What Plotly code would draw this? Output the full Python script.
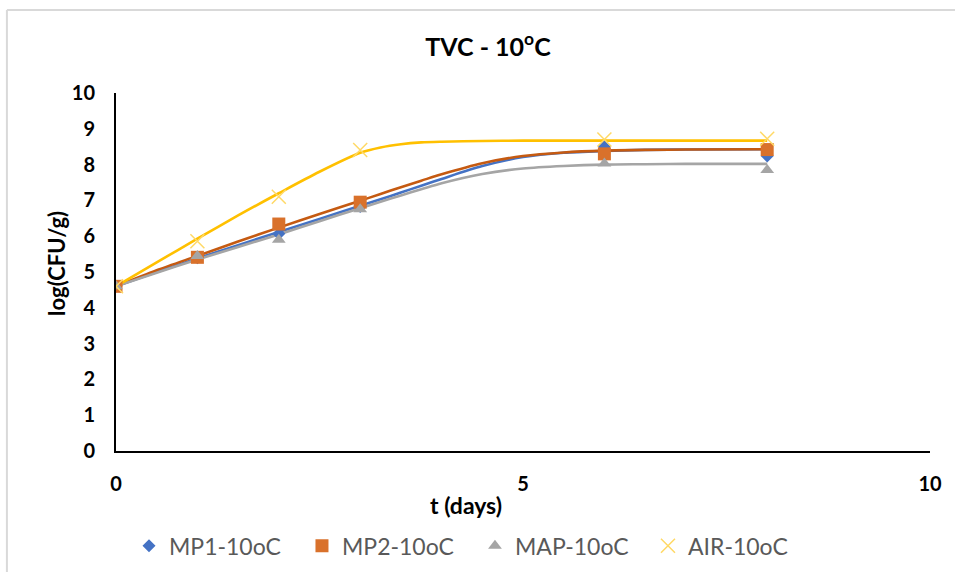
import plotly.graph_objects as go

# Observed data points (days, log CFU/g)
t_obs = [0, 1, 2, 3, 6, 8]
mp1_obs = [4.6, 5.40, 6.07, 6.83, 8.50, 8.24]
mp2_obs = [4.6, 5.41, 6.34, 6.95, 8.30, 8.42]
map_obs = [4.6, 5.45, 5.90, 6.75, 8.03, 7.85]
air_obs = [4.6, 5.86, 7.10, 8.41, 8.70, 8.72]

# Fitted curves
t_fit = [0, 0.5, 1, 1.5, 2, 2.5, 3, 3.25, 3.5, 3.75, 4, 4.5, 5, 5.5, 6, 6.5, 7, 8]
mp1_fit = [4.6, 5.00, 5.38, 5.75, 6.12, 6.48, 6.85, 7.03, 7.22, 7.41, 7.60, 7.96, 8.21, 8.33, 8.38, 8.41, 8.42, 8.43]
mp2_fit = [4.6, 5.05, 5.45, 5.85, 6.24, 6.62, 6.99, 7.18, 7.37, 7.55, 7.73, 8.04, 8.24, 8.34, 8.39, 8.41, 8.42, 8.43]
map_fit = [4.6, 4.98, 5.35, 5.70, 6.05, 6.42, 6.78, 6.96, 7.14, 7.31, 7.48, 7.74, 7.89, 7.96, 8.00, 8.01, 8.02, 8.02]
air_fit = [4.6, 5.27, 5.93, 6.58, 7.20, 7.80, 8.33, 8.48, 8.57, 8.62, 8.64, 8.66, 8.67, 8.67, 8.67, 8.67, 8.67, 8.67]

names = ["MP1-10oC", "MP2-10oC", "MAP-10oC", "AIR-10oC"]
line_colors = ["#4472C4", "#C55A11", "#A5A5A5", "#FFC000"]
marker_colors = ["#4472C4", "#D9712B", "#A5A5A5", "#FFD966"]
symbols = ["diamond", "square", "triangle-up", "x-thin"]
sizes = [10, 13, 12, 14]

x_ticks = [0, 5, 10]
y_ticks = list(range(0, 11))

fig = go.Figure()
for fit, col in zip([mp1_fit, mp2_fit, map_fit, air_fit], line_colors):
    fig.add_trace(go.Scatter(x=t_fit, y=fit, mode="lines", showlegend=False,
                             line=dict(color=col, width=2.6, shape="spline", smoothing=0.8),
                             hoverinfo="skip"))
for obs, name, col, sym, sz in zip([mp1_obs, mp2_obs, map_obs, air_obs], names, marker_colors, symbols, sizes):
    if sym == "x-thin":
        mk = dict(symbol=sym, size=sz, color=col, line=dict(color=col, width=1.5))
    else:
        mk = dict(symbol=sym, size=sz, color=col, line=dict(width=0))
    fig.add_trace(go.Scatter(x=t_obs, y=obs, mode="markers", name=name, marker=mk))

font_family = "Lato"
fig.update_layout(
    width=955, height=572,
    margin=dict(l=116, r=25, t=93, b=121, autoexpand=False),
    paper_bgcolor="white", plot_bgcolor="white",
    font=dict(family=font_family, color="#000000"),
    title=dict(text="TVC - 10<sup>o</sup>C", x=0.457, xref="paper", xanchor="center",
               y=0.918, yref="container", yanchor="middle",
               font=dict(family=font_family, size=25, color="#000000", weight="bold")),
    xaxis=dict(range=[0, 10], tickvals=x_ticks, showgrid=False, zeroline=False,
               showline=True, linecolor="#000000", linewidth=2, ticks="",
               ticklabelstandoff=14,
               tickfont=dict(family=font_family, size=20, color="#000000", weight="bold")),
    yaxis=dict(range=[0, 10], tickvals=y_ticks, showgrid=False, zeroline=False,
               showline=True, linecolor="#000000", linewidth=2, ticks="",
               ticklabelstandoff=15,
               tickfont=dict(family=font_family, size=20, color="#000000", weight="bold")),
    legend=dict(orientation="h", x=0.441, xanchor="center", y=-0.265, yanchor="middle",
                font=dict(family=font_family, size=23, color="#595959"),
                itemwidth=30, entrywidth=128, entrywidthmode="pixels",
                tracegroupgap=0, bgcolor="rgba(0,0,0,0)"),
    annotations=[
        dict(text="log(CFU/g)", xref="paper", yref="paper", x=-0.073, y=0.524,
             textangle=-90, showarrow=False, xanchor="center", yanchor="middle",
             font=dict(family=font_family, size=22, color="#000000", weight="bold")),
        dict(text="t (days)", xref="paper", yref="paper", x=0.43, y=-0.15,
             showarrow=False, xanchor="center", yanchor="middle",
             font=dict(family=font_family, size=23, color="#000000", weight="bold")),
    ],
    shapes=[
        dict(type="line", xref="paper", yref="paper", x0=-0.134, x1=1.05, y0=1.232, y1=1.232,
             line=dict(color="#D9D9D9", width=2)),
        dict(type="line", xref="paper", yref="paper", x0=-0.134, x1=-0.134, y0=1.232, y1=-0.36,
             line=dict(color="#D9D9D9", width=2)),
    ],
)

fig.write_html("out.html")
